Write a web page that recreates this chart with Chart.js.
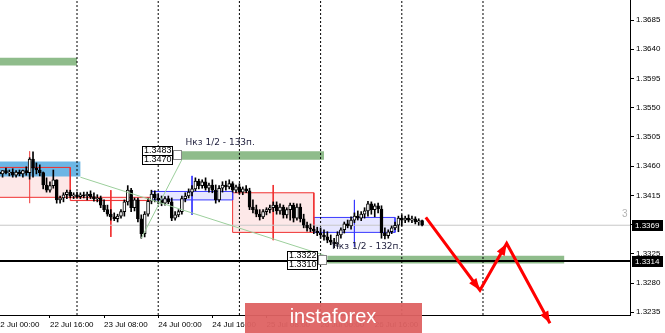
<!DOCTYPE html>
<html>
<head>
<meta charset="utf-8">
<script src="https://cdn.jsdelivr.net/npm/chart.js@4.4.1/dist/chart.umd.min.js"></script>
<style>
html, body { margin: 0; padding: 0; background: #fff; }
#wrap { width: 665px; height: 333px; position: relative; }
</style>
</head>
<body>
<div id="wrap"><canvas id="chart"></canvas></div>
<script>
// H1 candles, hour 0 = 22 Jul 00:00
const firstHour = 1;
const opens = [
  1.3451,1.3448,1.3453,1.3450,1.3451,1.3446,1.3451,1.3448,1.3453,1.3450,
  1.3471,1.3457,1.3454,1.3450,1.3431,1.3423,1.3430,1.3439,1.3408,1.3411,
  1.3416,1.3420,1.3414,1.3416,1.3413,1.3416,1.3414,1.3417,1.3413,1.3410,
  1.3411,1.3400,1.3393,1.3386,1.3382,1.3379,1.3383,1.3390,1.3405,1.3423,
  1.3396,1.3408,1.3379,1.3356,1.3386,1.3406,1.3417,1.3411,1.3408,1.3403,
  1.3410,1.3405,1.3380,1.3385,1.3390,1.3410,1.3414,1.3420,1.3425,1.3437,
  1.3430,1.3436,1.3426,1.3431,1.3423,1.3408,1.3426,1.3431,1.3428,1.3433,
  1.3423,1.3428,1.3420,1.3425,1.3422,1.3397,1.3393,1.3386,1.3382,1.3390,
  1.3393,1.3396,1.3400,1.3391,1.3397,1.3385,1.3393,1.3400,1.3380,1.3397,
  1.3379,1.3369,1.3365,1.3363,1.3360,1.3357,1.3354,1.3351,1.3346,1.3343,
  1.3340,1.3354,1.3362,1.3371,1.3368,1.3377,1.3383,1.3380,1.3386,1.3391,
  1.3402,1.3393,1.3399,1.3394,1.3357,1.3353,1.3359,1.3365,1.3369,1.3380,
  1.3377,1.3380,1.3377,1.3379,1.3374,1.3376
];
const highs = [
  1.3456,1.3453,1.3457,1.3454,1.3456,1.3453,1.3454,1.3454,1.3459,1.3473,
  1.3482,1.3465,1.3462,1.3451,1.3442,1.3436,1.3454,1.3439,1.3414,1.3419,
  1.3423,1.3423,1.3419,1.3420,1.3419,1.3420,1.3420,1.3422,1.3419,1.3416,
  1.3414,1.3408,1.3400,1.3393,1.3388,1.3386,1.3393,1.3408,1.3430,1.3426,
  1.3411,1.3411,1.3385,1.3390,1.3411,1.3423,1.3422,1.3417,1.3414,1.3413,
  1.3414,1.3411,1.3390,1.3393,1.3414,1.3419,1.3425,1.3430,1.3442,1.3440,
  1.3439,1.3442,1.3434,1.3439,1.3431,1.3430,1.3436,1.3437,1.3439,1.3436,
  1.3431,1.3433,1.3428,1.3430,1.3426,1.3408,1.3400,1.3393,1.3393,1.3396,
  1.3400,1.3405,1.3405,1.3402,1.3400,1.3396,1.3403,1.3403,1.3402,1.3402,
  1.3386,1.3374,1.3371,1.3368,1.3366,1.3365,1.3362,1.3359,1.3354,1.3349,
  1.3359,1.3365,1.3374,1.3377,1.3382,1.3388,1.3391,1.3390,1.3396,1.3406,
  1.3405,1.3402,1.3403,1.3399,1.3365,1.3362,1.3368,1.3374,1.3383,1.3385,
  1.3383,1.3385,1.3383,1.3382,1.3379,1.3377
];
const lows = [
  1.3445,1.3443,1.3448,1.3445,1.3443,1.3443,1.3445,1.3443,1.3446,1.3440,
  1.3443,1.3448,1.3445,1.3425,1.3420,1.3420,1.3426,1.3403,1.3403,1.3405,
  1.3410,1.3411,1.3410,1.3411,1.3410,1.3411,1.3408,1.3410,1.3406,1.3405,
  1.3396,1.3390,1.3383,1.3377,1.3376,1.3374,1.3380,1.3383,1.3400,1.3390,
  1.3391,1.3374,1.3349,1.3351,1.3383,1.3402,1.3405,1.3402,1.3399,1.3400,
  1.3402,1.3376,1.3377,1.3382,1.3386,1.3405,1.3411,1.3414,1.3422,1.3425,
  1.3426,1.3423,1.3420,1.3419,1.3403,1.3405,1.3420,1.3423,1.3425,1.3420,
  1.3419,1.3417,1.3416,1.3419,1.3393,1.3388,1.3382,1.3377,1.3379,1.3385,
  1.3388,1.3390,1.3386,1.3386,1.3380,1.3380,1.3377,1.3374,1.3377,1.3374,
  1.3365,1.3360,1.3359,1.3356,1.3353,1.3349,1.3346,1.3342,1.3339,1.3334,
  1.3336,1.3349,1.3357,1.3365,1.3363,1.3373,1.3377,1.3376,1.3380,1.3383,
  1.3386,1.3382,1.3388,1.3349,1.3348,1.3349,1.3356,1.3362,1.3359,1.3368,
  1.3373,1.3374,1.3373,1.3371,1.3369,1.3368
];
const closes = [
  1.3448,1.3453,1.3450,1.3451,1.3446,1.3451,1.3448,1.3453,1.3450,1.3471,
  1.3457,1.3454,1.3450,1.3431,1.3423,1.3430,1.3439,1.3408,1.3411,1.3416,
  1.3420,1.3414,1.3416,1.3413,1.3416,1.3414,1.3417,1.3413,1.3410,1.3411,
  1.3400,1.3393,1.3386,1.3382,1.3379,1.3383,1.3390,1.3405,1.3423,1.3396,
  1.3408,1.3379,1.3356,1.3386,1.3406,1.3417,1.3411,1.3408,1.3403,1.3410,
  1.3405,1.3380,1.3385,1.3390,1.3410,1.3414,1.3420,1.3425,1.3437,1.3430,
  1.3436,1.3426,1.3431,1.3423,1.3408,1.3426,1.3431,1.3428,1.3433,1.3423,
  1.3428,1.3420,1.3425,1.3422,1.3397,1.3393,1.3386,1.3382,1.3390,1.3393,
  1.3396,1.3400,1.3391,1.3397,1.3385,1.3393,1.3400,1.3380,1.3397,1.3379,
  1.3369,1.3365,1.3363,1.3360,1.3357,1.3354,1.3351,1.3346,1.3343,1.3340,
  1.3354,1.3362,1.3371,1.3368,1.3377,1.3383,1.3380,1.3386,1.3391,1.3402,
  1.3393,1.3399,1.3394,1.3357,1.3353,1.3359,1.3365,1.3369,1.3380,1.3377,
  1.3380,1.3377,1.3379,1.3374,1.3376,1.3369
];

// axes
const xMin = 1.24, xMax = 187.45;
const yMin = 1.32308, yMax = 1.37158;
const xTickHours = [0, 16, 32, 48, 64, 80, 96, 112];
const xTickLabels = ['22 Jul 00:00', '22 Jul 16:00', '23 Jul 08:00', '24 Jul 00:00',
                     '24 Jul 16:00', '25 Jul 08:00', '26 Jul 00:00', '26 Jul 16:00'];
const yTickValues = [1.3235, 1.3280, 1.3325, 1.3370, 1.3415, 1.3460, 1.3505, 1.3550, 1.3595, 1.3640, 1.3685];
const separatorHours = [24, 48, 72, 96, 120, 144];

// levels and zones
const bidPrice = 1.3369;
const supportPrice = 1.3314;
const greenStart = [0, 55, 98];
const greenEnd = [24, 97, 168];
const greenTop = [1.3627, 1.3483, 1.3322];
const greenBottom = [1.3615, 1.3470, 1.3310];
const blueZone = [-2, 25, 1.3467, 1.3444];

// daily boxes
const boxStart = [-2, 22, 46, 70, 94];
const boxEnd = [22, 46, 70, 94, 118];
const boxTop = [1.3458, 1.3412, 1.3421, 1.3419, 1.3381];
const boxBottom = [1.3412, 1.3407, 1.3408, 1.3358, 1.3358];
const boxIsRed = [true, true, false, true, false];
const markerTop = [1.3483, 1.3423, 1.3445, 1.3431, 1.3408];
const markerBottom = [1.3403, 1.3351, 1.3385, 1.3346, 1.3336];

// thin green trend lines
const trendHours = [[25, 97.5], [43, 55]];
const trendPrices = [[1.3443, 1.3322], [1.3349, 1.3470]];

// forecast path
const arrowHours = [127.1, 143.1, 151.0, 163.8];
const arrowPrices = [1.3381, 1.3269, 1.3341, 1.3218];

// texts
const noteHours = [56.1, 99.4];
const notePrices = [1.3496, 1.3336];
const noteTexts = ['Нкз 1/2 - 133п.', 'Нкз 1/2 - 132п.'];
const tagHours = [55, 98];
const tagPrices = [[1.3483, 1.3470], [1.3322, 1.3310]];
const markPrices = [1.3369, 1.3314];

function boxPoints(h1, h2, top, bottom) {
  return [{x: h1, y: top}, {x: h2, y: top}, {x: h2, y: bottom}, {x: h1, y: bottom}, {x: h1, y: top}];
}

const datasets = [];

// box fills
boxStart.forEach((h, i) => {
  datasets.push({
    type: 'line', data: boxPoints(h, boxEnd[i], boxTop[i], boxBottom[i]),
    borderWidth: 0, pointRadius: 0, fill: 'shape',
    backgroundColor: boxIsRed[i] ? 'rgba(250,190,190,0.35)' : 'rgba(200,200,255,0.45)',
    order: 12
  });
});
// blue zone
datasets.push({
  type: 'line', data: boxPoints(blueZone[0], blueZone[1], blueZone[2], blueZone[3]),
  borderWidth: 0, pointRadius: 0, fill: 'shape', backgroundColor: 'rgba(100,178,228,0.95)', order: 11
});
// green zones
greenStart.forEach((h, i) => {
  datasets.push({
    type: 'line', data: boxPoints(h, greenEnd[i], greenTop[i], greenBottom[i]),
    borderWidth: 0, pointRadius: 0, fill: 'shape', backgroundColor: 'rgb(143,188,139)', order: 11
  });
});
// box outlines + middle markers
boxStart.forEach((h, i) => {
  const col = boxIsRed[i] ? '#f03030' : '#3a3aff';
  datasets.push({
    type: 'line', data: boxPoints(h, boxEnd[i], boxTop[i], boxBottom[i]),
    borderColor: col, borderWidth: 1, pointRadius: 0, fill: false, order: 10
  });
  const mid = (h + boxEnd[i]) / 2;
  datasets.push({
    type: 'line', data: [{x: mid, y: markerTop[i]}, {x: mid, y: markerBottom[i]}],
    borderColor: i === 0 ? 'rgba(240,60,60,0.5)' : col, borderWidth: 1, pointRadius: 0, fill: false, order: 10
  });
});
// day separators
separatorHours.forEach(h => {
  datasets.push({
    type: 'line', data: [{x: h, y: yMin}, {x: h, y: yMax}],
    borderColor: '#000', borderWidth: 1, borderDash: [2, 2], pointRadius: 0, fill: false, order: 9
  });
});
// bid line
datasets.push({
  type: 'line', data: [{x: xMin, y: bidPrice}, {x: xMax, y: bidPrice}],
  borderColor: '#c8c8c8', borderWidth: 1, pointRadius: 0, fill: false, order: 8
});
// candles
datasets.push({
  type: 'bar', data: lows.map((l, i) => ({x: firstHour + i, y: [l, highs[i]]})),
  backgroundColor: '#000', borderWidth: 0, barThickness: 1, grouped: false, order: 6
});
datasets.push({
  type: 'bar', data: opens.map((o, i) => ({x: firstHour + i, y: [o, closes[i]]})),
  backgroundColor: opens.map((o, i) => closes[i] < o ? '#000' : '#fff'),
  borderColor: '#000', borderWidth: 1, borderSkipped: false, barThickness: 3, grouped: false, order: 5
});
// trend lines
trendHours.forEach((hh, i) => {
  datasets.push({
    type: 'line', data: [{x: hh[0], y: trendPrices[i][0]}, {x: hh[1], y: trendPrices[i][1]}],
    borderColor: '#9ccf9c', borderWidth: 1, pointRadius: 0, fill: false, order: 4
  });
});
// support line
datasets.push({
  type: 'line', data: [{x: xMin, y: supportPrice}, {x: xMax, y: supportPrice}],
  borderColor: '#000', borderWidth: 2, pointRadius: 0, fill: false, order: 3
});
// forecast path
datasets.push({
  type: 'line', data: arrowHours.map((h, i) => ({x: h, y: arrowPrices[i]})),
  borderColor: '#ff0000', borderWidth: 3, pointRadius: 0, fill: false, clip: false, order: 1
});

const overlay = {
  id: 'overlay',
  afterDatasetsDraw(chart) {
    const {ctx, scales: {x, y}} = chart;
    ctx.save();
    // arrow heads at each turn of the forecast path
    ctx.fillStyle = '#ff0000';
    for (let i = 1; i < arrowHours.length; i++) {
      const x0 = x.getPixelForValue(arrowHours[i - 1]), y0 = y.getPixelForValue(arrowPrices[i - 1]);
      const x1 = x.getPixelForValue(arrowHours[i]), y1 = y.getPixelForValue(arrowPrices[i]);
      const a = Math.atan2(y1 - y0, x1 - x0);
      ctx.beginPath();
      ctx.moveTo(x1, y1);
      ctx.lineTo(x1 - 12 * Math.cos(a) + 4.5 * Math.sin(a), y1 - 12 * Math.sin(a) - 4.5 * Math.cos(a));
      ctx.lineTo(x1 - 12 * Math.cos(a) - 4.5 * Math.sin(a), y1 - 12 * Math.sin(a) + 4.5 * Math.cos(a));
      ctx.closePath();
      ctx.fill();
    }
    // notes
    ctx.font = '9px "DejaVu Sans"';
    ctx.fillStyle = '#1e1e3c';
    ctx.textBaseline = 'middle';
    ctx.textAlign = 'left';
    noteTexts.forEach((t, i) => ctx.fillText(t, x.getPixelForValue(noteHours[i]), y.getPixelForValue(notePrices[i])));
    // price tags
    ctx.font = '9px "Liberation Sans"';
    tagHours.forEach((h, i) => {
      const x0 = Math.round(x.getPixelForValue(h));
      const ym = Math.round((y.getPixelForValue(tagPrices[i][0]) + y.getPixelForValue(tagPrices[i][1])) / 2);
      ctx.fillStyle = '#fff';
      ctx.strokeStyle = '#888';
      ctx.lineWidth = 1;
      ctx.fillRect(x0 - 9, ym - 5, 9, 10);
      ctx.strokeRect(x0 - 8.5, ym - 4.5, 8, 9);
      ctx.strokeStyle = '#000';
      tagPrices[i].forEach((p, k) => {
        const top = ym - 9 + k * 9;
        ctx.fillStyle = '#fff';
        ctx.fillRect(x0 - 40, top, 31, 9);
        ctx.strokeRect(x0 - 39.5, top + 0.5, 30, 9);
        ctx.fillStyle = '#000';
        ctx.fillText(p.toFixed(4), x0 - 38, top + 5);
      });
    });
    // small grey mark
    ctx.fillStyle = '#b4b4b4';
    ctx.font = '10px "Liberation Sans"';
    ctx.fillText('3', x.getPixelForValue(185.1), y.getPixelForValue(1.3386));
    ctx.restore();
  },
  afterDraw(chart) {
    const {ctx, scales: {x, y}} = chart;
    ctx.save();
    ctx.font = '8px "Liberation Sans"';
    ctx.textBaseline = 'middle';
    ctx.textAlign = 'left';
    markPrices.forEach(p => {
      const yy = Math.round(y.getPixelForValue(p));
      ctx.fillStyle = '#000';
      ctx.fillRect(x.right + 2, yy - 5, 31, 11);
      ctx.fillStyle = '#fff';
      ctx.fillText(p.toFixed(4), x.right + 5, yy + 0.5);
    });
    // watermark
    ctx.fillStyle = 'rgba(222,98,98,0.95)';
    ctx.fillRect(245, 303, 177, 30);
    ctx.fillStyle = '#fff';
    ctx.font = '20px "Liberation Sans"';
    ctx.textAlign = 'center';
    ctx.textBaseline = 'alphabetic';
    ctx.fillText('instaforex', 333, 323);
    ctx.restore();
  }
};

const axisFont = {family: 'Liberation Sans', size: 8};

new Chart(document.getElementById('chart'), {
  type: 'bar',
  data: {datasets},
  options: {
    responsive: true,
    maintainAspectRatio: false,
    animation: false,
    layout: {padding: 0, autoPadding: false},
    plugins: {legend: {display: false}, tooltip: {enabled: false}},
    scales: {
      x: {
        type: 'linear', position: 'bottom', min: xMin, max: xMax, offset: false,
        border: {color: '#000'},
        grid: {drawOnChartArea: false, color: '#000', tickLength: 3, offset: false},
        ticks: {
          autoSkip: false, maxRotation: 0, align: 'start', padding: 2, color: '#000', font: axisFont,
          callback: (v, i) => xTickLabels[i]
        },
        afterBuildTicks: s => { s.ticks = xTickHours.map(v => ({value: v})); },
        afterFit: s => { s.height = 18; s.paddingLeft = 0; s.paddingRight = 0; }
      },
      y: {
        type: 'linear', position: 'right', min: yMin, max: yMax,
        border: {color: '#000'},
        grid: {drawOnChartArea: false, color: '#000', tickLength: 4},
        ticks: {padding: 2, color: '#000', font: axisFont, callback: v => v.toFixed(4)},
        afterBuildTicks: s => { s.ticks = yTickValues.map(v => ({value: v})); },
        afterFit: s => { s.width = 35; s.paddingTop = 0; s.paddingBottom = 0; }
      }
    }
  },
  plugins: [overlay]
});
</script>
</body>
</html>
